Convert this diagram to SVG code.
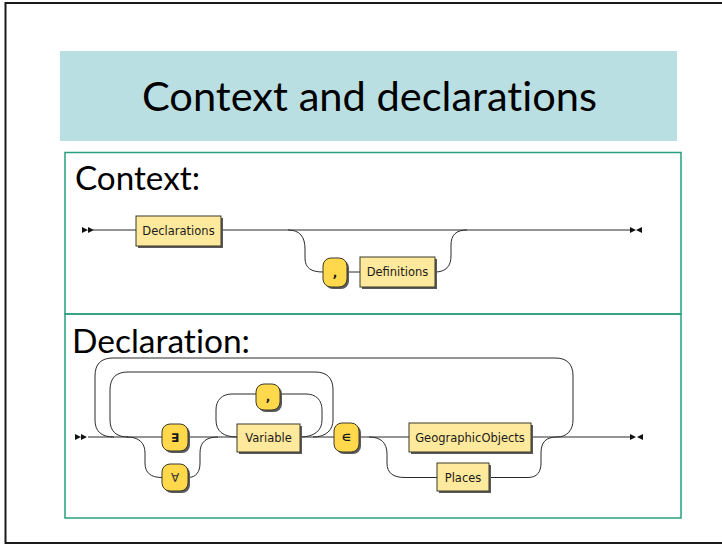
<svg xmlns="http://www.w3.org/2000/svg" width="722" height="545" viewBox="0 0 722 545">
  <style>
    .heading { font-family: Lato, "Open Sans", sans-serif; fill: #000; font-variant-ligatures: none; font-feature-settings: "liga" 0, "clig" 0; }
    .panel { fill: none; stroke: #27a07f; stroke-width: 1.5; }
    .wire { fill: none; stroke: #2b2b2b; stroke-width: 1; }
    .shadow { fill: #5a5a5a; }
    .nt { fill: #ffe99c; stroke: #3a3a2a; stroke-width: 1; }
    .t { fill: #ffd84c; stroke: #3a3a2a; stroke-width: 1; }
    .lbl { font-family: "DejaVu Sans", Verdana, sans-serif; font-size: 11.5px; fill: #1a1a1a; text-anchor: middle; }
    .sym { font-family: "DejaVu Sans", sans-serif; font-size: 12px; font-weight: bold; fill: #1a1a1a; text-anchor: middle; }
    .sym.thin { font-weight: normal; fill: #333; }
    .sym.small { font-size: 10px; }
    .mark { fill: #111; }
  </style>

  <!-- slide frame -->
  <rect x="5.5" y="3" width="730" height="540" fill="#fff" stroke="#1a1a1a" stroke-width="2"/>

  <!-- title band -->
  <g id="title">
    <rect x="60" y="51" width="617" height="90" fill="#badfe2"/>
    <text class="heading" x="142" y="111" font-size="40" textLength="455" lengthAdjust="spacingAndGlyphs">Context and declarations</text>
  </g>

  <!-- panels -->
  <rect class="panel" x="65" y="152.5" width="616" height="161.5"/>
  <rect class="panel" x="65" y="314" width="616" height="204"/>

  <text class="heading" x="75" y="190" font-size="32" textLength="125" lengthAdjust="spacingAndGlyphs">Context:</text>
  <text class="heading" x="72" y="353" font-size="33" textLength="178" lengthAdjust="spacingAndGlyphs">Declaration:</text>

  <!-- connectors -->
  <g id="connectors">
    <!-- Context rule -->
    <path class="wire" d="M93,230 H136"/>
    <path class="wire" d="M221,230 H630"/>
    <path class="wire" d="M288,230 C300,230 305,237 305,249 V258 C305,268 311,272 323,272"/>
    <path class="wire" d="M347,272 H360"/>
    <path class="wire" d="M435,272 C446,272 451,266 451,256 V245 C451,235 456,230 467,230"/>

    <!-- Declaration rule -->
    <path class="wire" d="M88,437 H162"/>
    <path class="wire" d="M188,437 H237"/>
    <path class="wire" d="M127,437 C139,437 145,443 145,453 V463 C145,473 151,477.5 162,477.5"/>
    <path class="wire" d="M188,477.5 C196,477.5 200,472 200,463 V453 C200,442 206,437 218,437"/>
    <path class="wire" d="M300,437 H334"/>
    <path class="wire" d="M300,437 C315,437 322,430 322,420 V410 C322,400 316,394 306,394 H280"/>
    <path class="wire" d="M256,394 H232 C222,394 216,400 216,410 V420 C216,431 223,437 237,437"/>
    <path class="wire" d="M313,437 C326,437 333,430 333,420 V390 C333,378 327,372 315,372 H128 C116,372 110,378 110,390 V420 C110,431 116,437 128,437"/>
    <path class="wire" d="M557,437 C567,437 573,430 573,420 V376 C573,364 567,358 555,358 H113 C101,358 95,364 95,376 V420 C95,431 101,437 114,437"/>
    <path class="wire" d="M359,437 H409"/>
    <path class="wire" d="M369,437 C381,437 387,443 387,454 V463 C387,473 393,477.5 405,477.5 H437"/>
    <path class="wire" d="M489,477.5 H528 C537,477.5 541,472 541,463 V453 C541,442 546,437 557,437"/>
    <path class="wire" d="M531,437 H630"/>

    <!-- start / end marks -->
    <path class="mark" d="M82,227 L88,230 L82,233 Z M88,227 L94,230 L88,233 Z"/>
    <path class="mark" d="M630,227 L636,230 L630,233 Z M642,227 L636,230 L642,233 Z"/>
    <path class="mark" d="M75,434 L81,437 L75,440 Z M81,434 L87,437 L81,440 Z"/>
    <path class="mark" d="M630,434 L636,437 L630,440 Z M643,434 L637,437 L643,440 Z"/>
  </g>

  <!-- Context nodes -->
  <g id="declarations">
    <rect class="shadow" x="138" y="218" width="85" height="30"/>
    <rect class="nt" x="136" y="216" width="85" height="30"/>
    <text class="lbl" x="178.5" y="235">Declarations</text>
  </g>
  <g id="comma-1">
    <rect class="shadow" x="325" y="260" width="24" height="29" rx="8"/>
    <rect class="t" x="323" y="258" width="24" height="29" rx="8"/>
    <text class="sym" x="335" y="277">,</text>
  </g>
  <g id="definitions">
    <rect class="shadow" x="362" y="259" width="75" height="30"/>
    <rect class="nt" x="360" y="257" width="75" height="30"/>
    <text class="lbl" x="397.5" y="276">Definitions</text>
  </g>

  <!-- Declaration nodes -->
  <g id="exists">
    <rect class="shadow" x="164" y="426" width="26" height="27" rx="8"/>
    <rect class="t" x="162" y="424" width="26" height="27" rx="8"/>
    <text class="sym" x="175" y="442">∃</text>
  </g>
  <g id="forall">
    <rect class="shadow" x="164" y="466" width="26" height="27" rx="8"/>
    <rect class="t" x="162" y="464" width="26" height="27" rx="8"/>
    <text class="sym thin" x="175" y="482">∀</text>
  </g>
  <g id="comma-2">
    <rect class="shadow" x="258" y="386" width="24" height="26" rx="8"/>
    <rect class="t" x="256" y="384" width="24" height="26" rx="8"/>
    <text class="sym" x="268" y="401">,</text>
  </g>
  <g id="variable">
    <rect class="shadow" x="239" y="426" width="63" height="28"/>
    <rect class="nt" x="237" y="424" width="63" height="28"/>
    <text class="lbl" x="268.5" y="442">Variable</text>
  </g>
  <g id="element-of">
    <rect class="shadow" x="336" y="425" width="25" height="29" rx="8"/>
    <rect class="t" x="334" y="423" width="25" height="29" rx="8"/>
    <text class="sym small" x="346.5" y="441">∈</text>
  </g>
  <g id="geographic-objects">
    <rect class="shadow" x="411" y="425" width="122" height="29"/>
    <rect class="nt" x="409" y="423" width="122" height="29"/>
    <text class="lbl" x="470" y="441.5">GeographicObjects</text>
  </g>
  <g id="places">
    <rect class="shadow" x="439" y="465" width="52" height="28"/>
    <rect class="nt" x="437" y="463" width="52" height="28"/>
    <text class="lbl" x="463" y="481.5">Places</text>
  </g>
</svg>
